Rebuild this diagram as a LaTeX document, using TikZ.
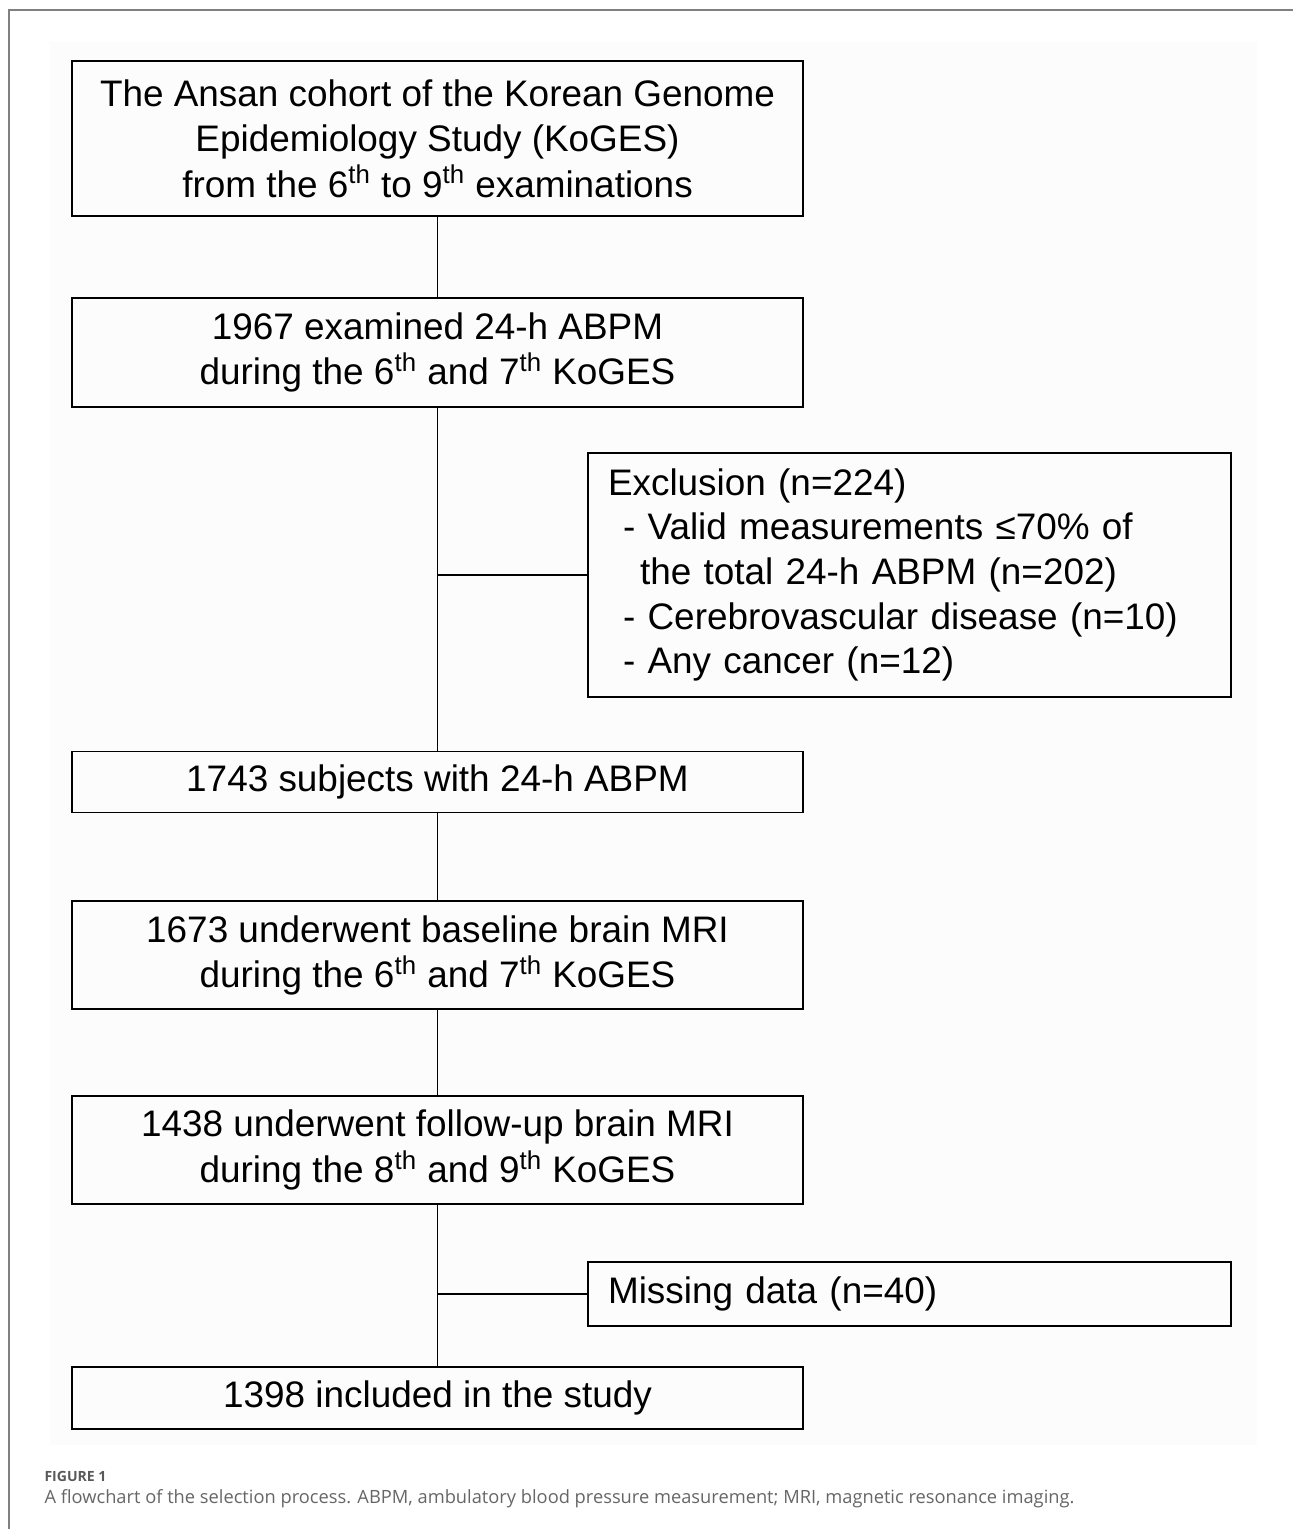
\documentclass[tikz,border=0pt]{standalone}
\usepackage{fontspec}
\setmainfont{Liberation Sans}
\newfontfamily\capfont{Open Sans}
\usetikzlibrary{positioning}

\begin{document}
\begin{tikzpicture}[semithick,
    box/.style={draw, line width=1pt, minimum width=14.62cm, align=center, inner sep=0pt,
        font=\fontsize{21}{25.8}\selectfont},
    side/.style={draw, line width=1pt, minimum width=12.86cm, text width=12.06cm, align=left,
        inner xsep=0.4cm, inner ysep=0pt, font=\fontsize{21}{25.4}\selectfont},
    link/.style={line width=0.8pt}]

    \useasboundingbox (0,0) rectangle (25.86,-30.58);
    \fill[black!1] (1,-0.84) rectangle (25.14,-28.9);
    \draw[gray, line width=0.8pt] (0.18,-30.58) -- (0.18,-0.2) -- (25.86,-0.2);

    \node[box, minimum height=3.1cm]  (cohort)  at (8.75,-2.77)          {The Ansan cohort of the Korean Genome\\ Epidemiology Study (KoGES)\\ from the 6\textsuperscript{th} to 9\textsuperscript{th} examinations};
    \node[box, minimum height=2.18cm] (abpm)    [below=1.6cm of cohort]  {1967 examined 24-h ABPM\\ during the 6\textsuperscript{th} and 7\textsuperscript{th} KoGES};
    \node[box, minimum height=1.22cm] (subj)    [below=6.86cm of abpm]   {1743 subjects with 24-h ABPM};
    \node[box, minimum height=2.16cm] (base)    [below=1.74cm of subj]   {1673 underwent baseline brain MRI\\ during the 6\textsuperscript{th} and 7\textsuperscript{th} KoGES};
    \node[box, minimum height=2.16cm] (follow)  [below=1.7cm of base]    {1438 underwent follow-up brain MRI\\ during the 8\textsuperscript{th} and 9\textsuperscript{th} KoGES};
    \node[box, minimum height=1.24cm] (incl)    [below=3.22cm of follow] {1398 included in the study};

    \node[side, minimum height=4.88cm] (excl) at (18.19,-11.5) {Exclusion (n=224)\\
        \hspace*{0.3cm}- Valid measurements ≤70\% of\\
        \hspace*{0.64cm}the total 24-h ABPM (n=202)\\
        \hspace*{0.3cm}- Cerebrovascular disease (n=10)\\
        \hspace*{0.3cm}- Any cancer (n=12)};
    \node[side, minimum height=1.28cm] (miss) at (18.19,-25.88) {Missing data (n=40)};

    \draw[link] (cohort) -- (abpm);
    \draw[link] (abpm)   -- (subj);
    \draw[link] (subj)   -- (base);
    \draw[link] (base)   -- (follow);
    \draw[link] (follow) -- (incl);
    \coordinate (cut1) at (abpm.south |- excl.west);
    \coordinate (cut2) at (follow.south |- miss.west);
    \draw[link] (cut1) -- (excl);
    \draw[link] (cut2) -- (miss);

    % caption
    \node[anchor=base west, inner sep=0pt, text=black!65, font=\capfont\fontsize{8}{9}\selectfont\bfseries] (fig) at (0.88,-29.62) {FIGURE 1};
    \node[anchor=base west, inner sep=0pt, text=black!60, font=\capfont\fontsize{10.4}{12}\selectfont] (cap) at (0.88,-30.06) {A flowchart of the selection process. ABPM, ambulatory blood pressure measurement; MRI, magnetic resonance imaging.};

\end{tikzpicture}
\end{document}
